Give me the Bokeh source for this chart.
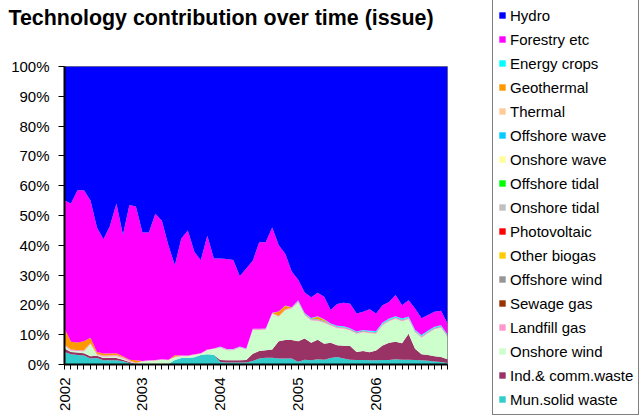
import math
from bokeh.plotting import figure
from bokeh.layouts import row, column
from bokeh.models import (ColumnDataSource, Range1d, FixedTicker, NumeralTickFormatter,
                          Legend, LegendItem, Label)
from bokeh.embed import file_html
from bokeh.resources import INLINE

# ---------------- data (monthly, Jan 2002 .. Dec 2006) ----------------
months = list(range(60))
year_labels = ["2002", "2003", "2004", "2005", "2006"]
year_positions = [0, 12, 24, 36, 48]

mun_solid_waste = [4.2, 3.4, 3.2, 3.0, 2.0, 2.2, 1.4, 1.4, 1.4, 1.1, 0.5, 0.1,
                   0.1, 0.2, 0.2, 0.2, 0.2, 1.5, 2.2, 2.2, 2.4, 3.2, 3.4, 3.3,
                   0.8, 0.7, 0.7, 0.7, 0.7, 1.2, 2.0, 2.3, 2.3, 2.0, 2.0, 2.0,
                   0.9, 1.6, 1.4, 1.8, 1.6, 2.2, 2.5, 2.0, 1.6, 1.5, 1.5, 1.4,
                   1.4, 1.5, 1.5, 1.8, 1.6, 1.6, 1.5, 1.4, 1.3, 1.0, 0.8, 0.5]
ind_comm_waste = [1.2, 0.8, 0.8, 0.8, 0.8, 0.7, 0.8, 0.8, 0.8, 0.5, 0.3, 0.1,
                  0.0, 0.0, 0.0, 0.0, 0.0, 0.0, 0.0, 0.0, 0.0, 0.0, 0.0, 0.0,
                  0.7, 0.7, 0.7, 0.7, 0.8, 2.4, 2.5, 2.5, 2.7, 5.8, 6.2, 6.2,
                  6.9, 7.1, 5.9, 6.5, 5.4, 5.1, 4.0, 4.3, 4.6, 2.7, 3.0, 2.7,
                  3.3, 4.9, 5.8, 5.8, 5.5, 8.7, 3.8, 2.0, 1.9, 1.8, 1.7, 1.3]
onshore_wind = [0.9, 0.4, 0.5, 0.6, 4.0, 0.3, 0.4, 0.5, 0.6, 0.4, 0.2, 0.2,
                0.9, 1.0, 1.1, 1.4, 1.2, 0.9, 0.6, 0.6, 0.8, 0.4, 1.4, 1.9,
                4.1, 3.4, 3.4, 4.2, 3.5, 8.0, 7.1, 6.9, 12.0, 8.2, 10.0, 10.6,
                13.0, 7.8, 7.5, 6.3, 7.0, 5.7, 5.7, 5.7, 5.2, 6.1, 6.3, 6.4,
                5.6, 6.8, 7.2, 7.7, 7.4, 4.9, 5.5, 5.6, 7.3, 9.0, 9.8, 7.4]
landfill_gas = [0.4, 0.4, 0.4, 0.4, 0.4, 0.4, 0.4, 0.4, 0.4, 0.4, 0.4, 0.2,
                0.2, 0.2, 0.2, 0.2, 0.2, 0.2, 0.2, 0.2, 0.2, 0.2, 0.2, 0.2,
                0.3, 0.3, 0.3, 0.3, 0.3, 0.3, 0.3, 0.3, 0.3, 0.3, 0.3, 0.3,
                0.3, 0.3, 0.3, 0.3, 0.3, 0.3, 0.3, 0.3, 0.3, 0.3, 0.3, 0.3,
                0.3, 0.3, 0.3, 0.3, 0.3, 0.3, 0.3, 0.3, 0.3, 0.3, 0.3, 0.3]
sewage_gas = [0.0, 0.0, 0.0, 0.0, 0.0, 0.0, 0.0, 0.0, 0.0, 0.0, 0.0, 0.0,
              0.0, 0.0, 0.0, 0.0, 0.0, 0.0, 0.0, 0.0, 0.0, 0.0, 0.0, 0.0,
              0.0, 0.0, 0.0, 0.0, 0.0, 0.0, 0.0, 0.0, 0.0, 0.0, 0.0, 0.0,
              0.0, 0.0, 0.0, 0.0, 0.0, 0.0, 0.0, 0.0, 0.0, 0.0, 0.0, 0.0,
              0.0, 0.0, 0.0, 0.0, 0.0, 0.0, 0.0, 0.0, 0.0, 0.0, 0.0, 0.0]
offshore_wind = [0.0, 0.0, 0.0, 0.0, 0.0, 0.0, 0.0, 0.0, 0.0, 0.0, 0.0, 0.0,
                 0.0, 0.0, 0.0, 0.0, 0.0, 0.0, 0.0, 0.0, 0.0, 0.0, 0.0, 0.0,
                 0.0, 0.0, 0.0, 0.0, 0.0, 0.0, 0.0, 0.0, 0.0, 0.0, 0.0, 0.0,
                 0.2, 0.2, 0.2, 0.2, 0.2, 0.2, 0.2, 0.2, 0.2, 0.2, 0.2, 0.2,
                 0.2, 0.2, 0.2, 0.2, 0.2, 0.2, 0.2, 0.2, 0.2, 0.2, 0.2, 0.2]
other_biogas = [0.0, 0.0, 0.0, 0.0, 0.0, 0.0, 0.0, 0.0, 0.0, 0.0, 0.0, 0.0,
                0.0, 0.0, 0.0, 0.0, 0.0, 0.0, 0.0, 0.0, 0.0, 0.0, 0.0, 0.0,
                0.0, 0.0, 0.0, 0.0, 0.0, 0.0, 0.0, 0.0, 0.0, 0.0, 0.0, 0.0,
                0.0, 0.0, 0.0, 0.0, 0.0, 0.0, 0.0, 0.0, 0.0, 0.0, 0.0, 0.0,
                0.0, 0.0, 0.0, 0.0, 0.0, 0.0, 0.0, 0.0, 0.0, 0.0, 0.0, 0.0]
photovoltaic = [0.0, 0.0, 0.0, 0.0, 0.0, 0.0, 0.0, 0.0, 0.0, 0.0, 0.0, 0.0,
                0.0, 0.0, 0.0, 0.0, 0.0, 0.0, 0.0, 0.0, 0.0, 0.0, 0.0, 0.0,
                0.0, 0.0, 0.0, 0.0, 0.0, 0.0, 0.0, 0.0, 0.0, 0.0, 0.0, 0.0,
                0.0, 0.0, 0.0, 0.0, 0.0, 0.0, 0.0, 0.0, 0.0, 0.0, 0.0, 0.0,
                0.0, 0.0, 0.0, 0.0, 0.0, 0.0, 0.0, 0.0, 0.0, 0.0, 0.0, 0.0]
onshore_tidal = [0.0, 0.0, 0.0, 0.0, 0.0, 0.0, 0.0, 0.0, 0.0, 0.0, 0.0, 0.0,
                 0.0, 0.0, 0.0, 0.0, 0.0, 0.0, 0.0, 0.0, 0.0, 0.0, 0.0, 0.0,
                 0.0, 0.0, 0.0, 0.0, 0.0, 0.0, 0.0, 0.0, 0.0, 0.0, 0.0, 0.0,
                 0.0, 0.0, 0.0, 0.0, 0.0, 0.0, 0.0, 0.0, 0.0, 0.0, 0.0, 0.0,
                 0.0, 0.0, 0.0, 0.0, 0.0, 0.0, 0.0, 0.0, 0.0, 0.0, 0.0, 0.0]
offshore_tidal = [0.0, 0.0, 0.0, 0.0, 0.0, 0.0, 0.0, 0.0, 0.0, 0.0, 0.0, 0.0,
                  0.0, 0.0, 0.0, 0.0, 0.0, 0.0, 0.0, 0.0, 0.0, 0.0, 0.0, 0.0,
                  0.0, 0.0, 0.0, 0.0, 0.0, 0.0, 0.0, 0.0, 0.0, 0.0, 0.0, 0.0,
                  0.0, 0.0, 0.0, 0.0, 0.0, 0.0, 0.0, 0.0, 0.0, 0.0, 0.0, 0.0,
                  0.0, 0.0, 0.0, 0.0, 0.0, 0.0, 0.0, 0.0, 0.0, 0.0, 0.0, 0.0]
onshore_wave = [0.0, 0.0, 0.0, 0.0, 0.0, 0.0, 0.0, 0.0, 0.0, 0.0, 0.0, 0.0,
                0.0, 0.0, 0.0, 0.0, 0.0, 0.0, 0.0, 0.0, 0.0, 0.0, 0.0, 0.0,
                0.0, 0.0, 0.0, 0.0, 0.0, 0.0, 0.0, 0.0, 0.0, 0.0, 0.0, 0.0,
                0.0, 0.0, 0.0, 0.0, 0.0, 0.0, 0.0, 0.0, 0.0, 0.0, 0.0, 0.0,
                0.0, 0.0, 0.0, 0.0, 0.0, 0.0, 0.0, 0.0, 0.0, 0.0, 0.0, 0.0]
offshore_wave = [0.0, 0.0, 0.0, 0.0, 0.0, 0.0, 0.0, 0.0, 0.0, 0.0, 0.0, 0.0,
                 0.0, 0.0, 0.0, 0.0, 0.0, 0.0, 0.0, 0.0, 0.0, 0.0, 0.0, 0.0,
                 0.0, 0.0, 0.0, 0.0, 0.0, 0.0, 0.0, 0.0, 0.0, 0.0, 0.0, 0.0,
                 0.1, 0.1, 0.1, 0.1, 0.1, 0.1, 0.1, 0.1, 0.1, 0.1, 0.1, 0.1,
                 0.1, 0.1, 0.1, 0.1, 0.1, 0.1, 0.1, 0.1, 0.1, 0.1, 0.1, 0.1]
thermal = [0.0, 0.0, 0.0, 0.0, 0.0, 0.0, 0.0, 0.0, 0.0, 0.0, 0.0, 0.0,
           0.0, 0.0, 0.0, 0.0, 0.0, 0.0, 0.0, 0.0, 0.0, 0.0, 0.0, 0.0,
           0.0, 0.0, 0.0, 0.0, 0.0, 0.0, 0.0, 0.0, 0.0, 0.0, 0.0, 0.0,
           0.0, 0.0, 0.0, 0.0, 0.0, 0.0, 0.0, 0.0, 0.0, 0.0, 0.0, 0.0,
           0.0, 0.0, 0.0, 0.0, 0.0, 0.0, 0.0, 0.0, 0.0, 0.0, 0.0, 0.0]
geothermal = [5.2, 2.6, 2.5, 3.0, 1.8, 0.6, 0.7, 0.6, 0.6, 0.4, 0.2, 0.8,
              0.0, 0.0, 0.0, 0.0, 0.0, 0.5, 0.0, 0.0, 0.0, 0.0, 0.0, 0.0,
              0.0, 0.0, 0.0, 0.0, 0.0, 0.0, 0.0, 0.0, 0.0, 1.4, 1.2, 0.0,
              0.0, 0.0, 0.0, 0.8, 0.4, 0.0, 0.0, 0.0, 0.0, 0.0, 0.0, 0.0,
              0.0, 0.0, 0.0, 0.0, 0.0, 0.0, 0.0, 0.0, 0.0, 0.0, 0.0, 0.0]
energy_crops = [0.0, 0.0, 0.0, 0.0, 0.0, 0.0, 0.0, 0.0, 0.0, 0.0, 0.0, 0.0,
                0.0, 0.0, 0.0, 0.0, 0.0, 0.0, 0.0, 0.0, 0.0, 0.0, 0.0, 0.0,
                0.1, 0.1, 0.1, 0.1, 0.1, 0.1, 0.1, 0.1, 0.1, 0.1, 0.1, 0.1,
                0.2, 0.2, 0.2, 0.2, 0.2, 0.2, 0.2, 0.2, 0.2, 0.2, 0.2, 0.2,
                0.3, 0.3, 0.3, 0.3, 0.3, 0.3, 0.3, 0.3, 0.3, 0.3, 0.3, 0.3]
forestry = [43.1, 46.4, 51.1, 50.7, 46.0, 41.8, 38.3, 42.8, 50.2, 40.7, 51.9, 51.6,
            43.1, 42.9, 49.1, 46.4, 38.4, 30.2, 39.3, 42.0, 34.4, 31.2, 38.2, 30.2,
            29.6, 30.2, 29.9, 23.6, 26.8, 22.8, 29.0, 28.9, 28.6, 22.2, 17.4, 12.0,
            6.8, 6.9, 7.0, 7.9, 7.5, 4.5, 7.3, 7.9, 8.2, 6.0, 6.1, 7.2,
            5.9, 5.8, 5.6, 7.1, 4.5, 5.5, 7.1, 5.6, 5.2, 5.0, 4.8, 3.7]
hydro = [45.0, 46.0, 41.5, 41.5, 45.0, 54.0, 58.0, 53.5, 46.0, 56.5, 46.5, 47.0,
         55.7, 55.7, 49.4, 51.8, 60.0, 66.7, 57.7, 55.0, 62.2, 65.0, 56.8, 64.4,
         64.4, 64.6, 64.9, 70.4, 67.8, 65.2, 59.0, 59.0, 54.0, 60.0, 62.8, 68.8,
         71.6, 75.8, 77.4, 75.9, 77.3, 81.7, 79.7, 79.3, 79.6, 82.9, 82.3, 81.5,
         82.9, 80.1, 79.0, 76.7, 80.1, 78.4, 81.2, 84.5, 83.4, 82.3, 82.0, 86.2]

# stacking order: bottom -> top
series_names = ["Mun.solid waste", "Ind.& comm.waste", "Onshore wind", "Landfill gas",
                "Sewage gas", "Offshore wind", "Other biogas", "Photovoltaic",
                "Onshore tidal", "Offshore tidal", "Onshore wave", "Offshore wave",
                "Thermal", "Geothermal", "Energy crops", "Forestry etc", "Hydro"]
series_values = [mun_solid_waste, ind_comm_waste, onshore_wind, landfill_gas,
                 sewage_gas, offshore_wind, other_biogas, photovoltaic,
                 onshore_tidal, offshore_tidal, onshore_wave, offshore_wave,
                 thermal, geothermal, energy_crops, forestry, hydro]
series_colors = ["#33CCCC", "#993366", "#CCFFCC", "#FF99CC",
                 "#993300", "#969696", "#FFCC00", "#FF0000",
                 "#C0C0C0", "#00FF00", "#FFFF99", "#00CCFF",
                 "#FFCC99", "#FF9900", "#00FFFF", "#FF00FF", "#0000FF"]
chart_title = "Technology contribution over time (issue)"

# ---------------- 100% stacking ----------------
totals = [sum(vals[i] for vals in series_values) for i in range(len(months))]
data = {"x": months}
keys = []
for k, vals in enumerate(series_values):
    key = f"s{k}"
    keys.append(key)
    data[key] = [v / t for v, t in zip(vals, totals)]
source = ColumnDataSource(data)

FONT = "Liberation Sans"

# ---------------- title strip ----------------
TITLE_H = 45
tf = figure(width=480, height=TITLE_H, output_backend="svg", toolbar_location=None,
            x_range=Range1d(0, 1), y_range=Range1d(0, 1),
            x_axis_location=None, y_axis_location=None,
            min_border_left=0, min_border_right=0, min_border_top=0, min_border_bottom=0)
tf.frame_align = False
tf.xgrid.visible = False
tf.ygrid.visible = False
tf.outline_line_color = None
tf.background_fill_color = "white"
tf.border_fill_color = "white"
tf.add_layout(Label(x=8, y=TITLE_H - 5, x_units="screen", y_units="screen", text=chart_title,
                    text_font=FONT, text_font_size="21.4px", text_font_style="bold",
                    text_color="black", text_baseline="top", text_align="left"))

# ---------------- main chart ----------------
p = figure(width=480, height=419 - TITLE_H, output_backend="svg", toolbar_location=None,
           x_range=Range1d(0, 59), y_range=Range1d(0, 1),
           min_border_left=64, min_border_right=33, min_border_top=66 - TITLE_H,
           min_border_bottom=55)
p.frame_align = False
p.background_fill_color = "white"
p.border_fill_color = "white"
p.outline_line_color = "#808080"
p.outline_line_width = 1
p.xgrid.visible = False
p.ygrid.visible = False

renderers = p.varea_stack(stackers=keys, x="x", color=series_colors, source=source)

# y axis
p.yaxis.ticker = FixedTicker(ticks=[i / 10 for i in range(11)])
p.yaxis.formatter = NumeralTickFormatter(format="0%")
p.yaxis.axis_line_color = "black"
p.yaxis.axis_line_width = 2
p.yaxis.major_tick_out = 6
p.yaxis.major_tick_in = 0
p.yaxis.minor_tick_line_color = None
p.yaxis.major_label_standoff = 9
p.yaxis.major_label_text_font = FONT
p.yaxis.major_label_text_font_size = "15px"
p.yaxis.major_label_text_color = "black"

# x axis
overrides = {m: "" for m in months}
for pos, lab in zip(year_positions, year_labels):
    overrides[pos] = lab
p.xaxis.ticker = FixedTicker(ticks=months)
p.xaxis.major_label_overrides = overrides
p.xaxis.major_label_orientation = math.pi / 2
p.xaxis.axis_line_color = "black"
p.xaxis.axis_line_width = 2
p.xaxis.major_tick_out = 5
p.xaxis.major_tick_in = 0
p.xaxis.minor_tick_line_color = None
p.xaxis.major_label_standoff = 8
p.xaxis.major_label_text_font = FONT
p.xaxis.major_label_text_font_size = "15px"
p.xaxis.major_label_text_color = "black"

# ---------------- legend panel ----------------
# same stacked areas, but the view range lies outside the data so that only
# the legend (which needs the renderers for its swatches) is visible here
lg = figure(width=162, height=419, output_backend="svg", toolbar_location=None,
            x_range=Range1d(1000, 1001), y_range=Range1d(0, 1),
            x_axis_location=None, y_axis_location=None,
            min_border_left=0, min_border_right=0, min_border_top=0, min_border_bottom=0)
lg.frame_align = False
lg.xgrid.visible = False
lg.ygrid.visible = False
lg.outline_line_color = None
lg.background_fill_color = "white"
lg.border_fill_color = "white"

swatches = lg.varea_stack(stackers=keys, x="x", color=series_colors, source=source)

items = [LegendItem(label=name, renderers=[r])
         for name, r in zip(series_names[::-1], swatches[::-1])]
legend = Legend(items=items, location=(12, 4))
legend.glyph_width = 8
legend.glyph_height = 8
legend.label_height = 20
legend.spacing = 4
legend.padding = 5
legend.margin = 0
legend.label_standoff = 4
legend.label_text_font = FONT
legend.label_text_font_size = "15px"
legend.label_text_color = "black"
legend.border_line_color = "black"
legend.border_line_width = 1
legend.background_fill_color = "white"
legend.background_fill_alpha = 1.0
lg.add_layout(legend)

layout = row(column(tf, p, spacing=0), lg, spacing=0)
open("out.html", "w").write(file_html(layout, INLINE))
